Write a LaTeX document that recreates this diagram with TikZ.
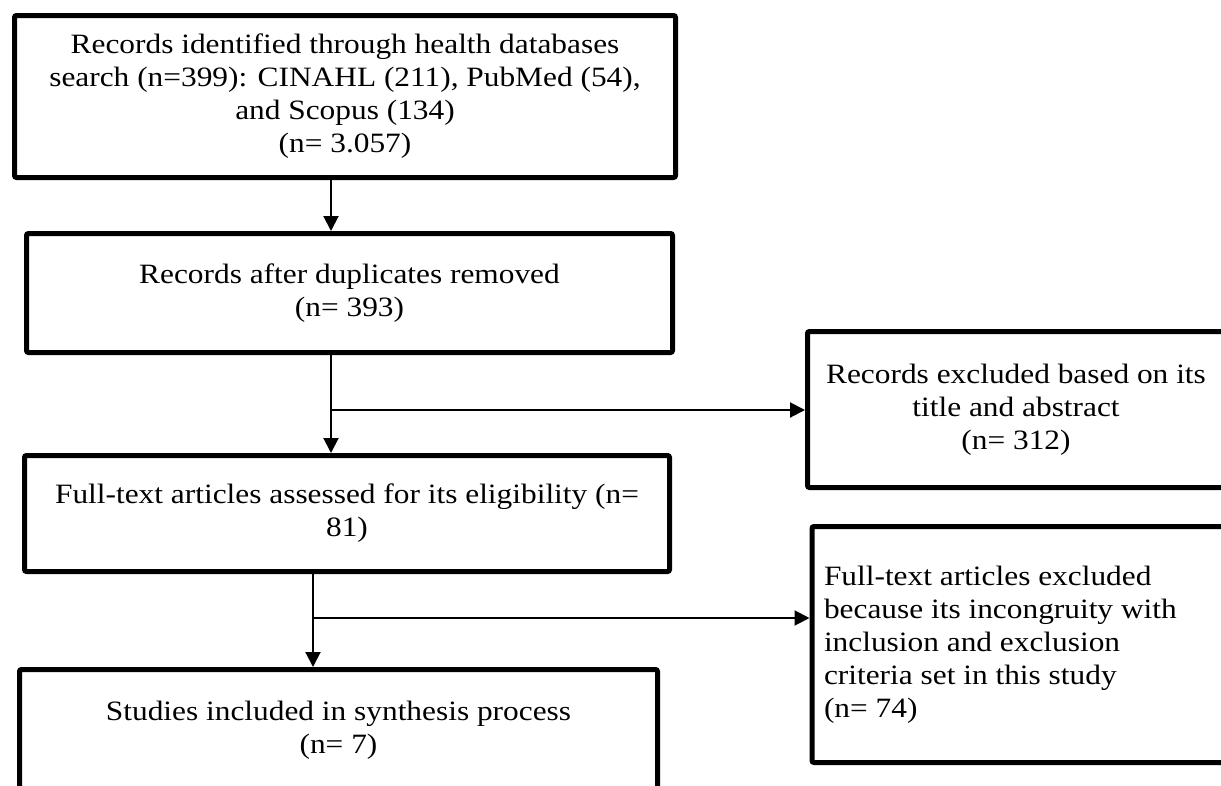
\documentclass[tikz,border=0pt]{standalone}
\usepackage{fontspec}
\setmainfont{Liberation Serif}[FakeStretch=1.12]
\usetikzlibrary{arrows.meta, positioning}

\begin{document}
\begin{tikzpicture}[
  x=1pt, y=-1pt,
  every node/.style={font=\fontsize{28}{33}\selectfont},
  box/.style={rectangle, rounded corners=2pt, draw, line width=5pt, align=center, inner sep=0pt},
  sidebox/.style={box, align=flush left, text width=394pt, inner xsep=12pt},
  >={Triangle[length=15pt, width=15pt]}
]
\clip (0,0) rectangle (1221,785);
\node[box, minimum width=661pt, minimum height=162pt] (ident) at (345,96.5) {Records identified through health databases\\search (n=399): CINAHL (211), PubMed (54),\\and Scopus (134)\\(n= 3.057)};
\node[box, minimum width=646pt, minimum height=119pt] (dup) at (349.5,293) {Records after duplicates removed\\(n= 393)};
\node[box, minimum width=645pt, minimum height=116pt] (full) at (347,513.5) {Full-text articles assessed for its eligibility (n=\\81)};
\node[box, minimum width=638pt, minimum height=121pt] (incl) at (338.5,730) {Studies included in synthesis process\\(n= 7)};
\node[box, minimum width=417pt, minimum height=156pt] (titleexcl) at (1016,409.5) {Records excluded based on its\\title and abstract\\(n= 312)};
\node[sidebox, minimum height=236pt] (fullexcl) at (1021,644.5) {Full-text articles excluded\\because its incongruity with\\inclusion and exclusion\\criteria set in this study\\(n= 74)};

\coordinate (split1) at (331,410);
\coordinate (split2) at (313,618);

\draw[->, line width=2pt] (ident.south -| split1) -- (dup.north -| split1);
\draw[->, line width=2pt] (dup.south -| split1) -- (full.north -| split1);
\draw[->, line width=2pt] (split1) -- (split1 -| titleexcl.west);
\draw[->, line width=2pt] (full.south -| split2) -- (incl.north -| split2);
\draw[->, line width=2pt] (split2) -- (split2 -| fullexcl.west);
\end{tikzpicture}
\end{document}
